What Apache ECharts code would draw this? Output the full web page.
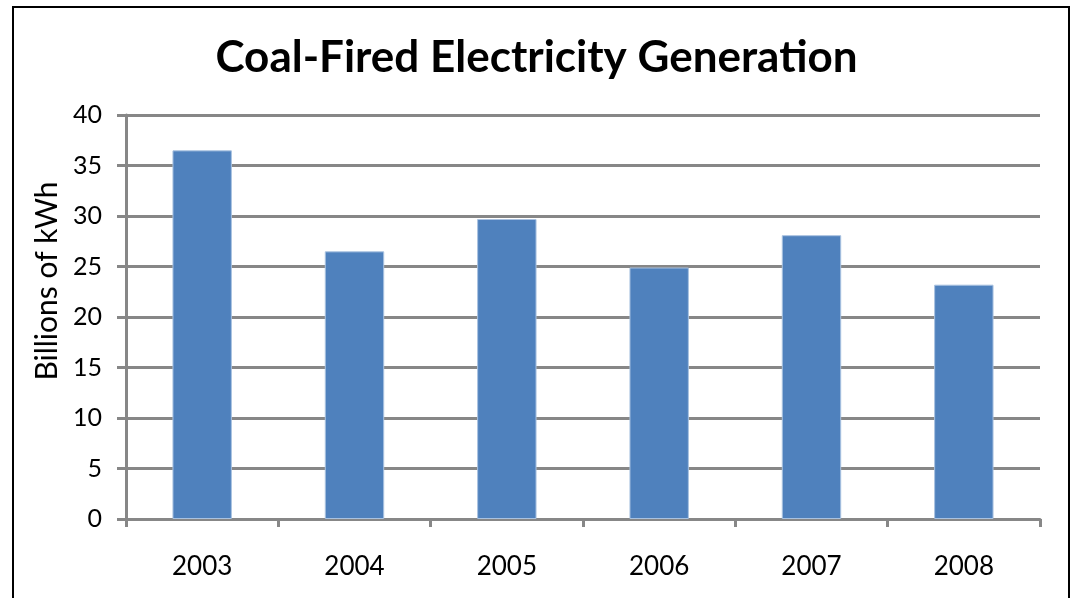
<!DOCTYPE html>
<html>
<head>
<meta charset="utf-8">
<script src="https://cdn.jsdelivr.net/npm/echarts@6/dist/echarts.min.js"></script>
<style>
  html, body { margin: 0; padding: 0; background: #fff; }
  #chart { width: 1073px; height: 598px; }
</style>
</head>
<body>
<div id="chart"></div>
<script>
// Annual coal-fired generation, billions of kWh
const years = ['2003', '2004', '2005', '2006', '2007', '2008'];
const generation = [36.5, 26.5, 29.7, 24.9, 28.1, 23.2];
const yTicks = { min: 0, max: 40, interval: 5 };

const axisGray = '#878787';
const font = 'Lato, "Open Sans", sans-serif';

const chart = echarts.init(document.getElementById('chart'), null, { renderer: 'canvas' });
chart.setOption({
  animation: false,
  backgroundColor: '#fff',
  title: {
    text: 'Coal-Fired Electricity Generation',
    left: 'center',
    top: 31,
    textStyle: { fontFamily: font, fontWeight: 'bold', fontSize: 44, color: '#000' }
  },
  graphic: [{
    type: 'rect',
    shape: { x: 13, y: 7, width: 1056, height: 600 },
    style: { fill: 'none', stroke: '#000', lineWidth: 2 },
    silent: true
  }],
  grid: { left: 126, right: 33, top: 115, bottom: 79, containLabel: false },
  xAxis: {
    type: 'category',
    data: years,
    boundaryGap: true,
    axisLine: { lineStyle: { color: axisGray, width: 3 } },
    axisTick: { show: true, length: 8, lineStyle: { color: axisGray, width: 3 } },
    axisLabel: { fontFamily: font, fontSize: 26, color: '#000', margin: 35 }
  },
  yAxis: {
    type: 'value',
    min: yTicks.min,
    max: yTicks.max,
    interval: yTicks.interval,
    name: 'Billions of kWh',
    nameLocation: 'middle',
    nameGap: 63,
    nameTextStyle: { fontFamily: font, fontSize: 30, color: '#000', padding: [0, 0, 0, 72] },
    axisLine: { show: true, lineStyle: { color: axisGray, width: 3 } },
    axisTick: { show: true, length: 9, lineStyle: { color: axisGray, width: 3 } },
    axisLabel: { fontFamily: font, fontSize: 25, color: '#000', margin: 24 },
    splitLine: { show: true, lineStyle: { color: axisGray, width: 3 } }
  },
  series: [{
    type: 'bar',
    data: generation,
    barWidth: '39%',
    itemStyle: { color: '#4F81BD', borderColor: '#a9c2e0', borderWidth: 1 }
  }]
});
</script>
</body>
</html>
